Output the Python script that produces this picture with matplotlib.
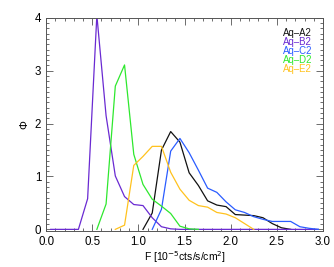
import numpy as np
import matplotlib
matplotlib.use("Agg")
import matplotlib.pyplot as plt
from matplotlib.ticker import MultipleLocator

plt.rcParams['font.family'] = ['Liberation Sans', 'DejaVu Sans']

nan = np.nan
x = [0.05, 0.15, 0.25, 0.35, 0.45, 0.55, 0.65, 0.75, 0.85, 0.95,
     1.05, 1.15, 1.25, 1.35, 1.45, 1.55, 1.65, 1.75, 1.85, 1.95,
     2.05, 2.15, 2.25, 2.35, 2.45, 2.55, 2.65, 2.75, 2.85, 2.95]

a2 = [nan, nan, nan, nan, nan, nan, nan, nan, nan, nan,
      0.0, 0.31, 1.50, 1.85, 1.65, 1.07, 0.83, 0.54, 0.46, 0.43,
      0.28, 0.27, 0.26, 0.22, 0.11, 0.03, 0.0, nan, nan, nan]
b2 = [0.0, 0.0, 0.0, 0.0, 0.58, 4.05, 2.15, 1.01, 0.62, 0.47,
      0.45, 0.22, 0.05, 0.01, 0.0, 0.0, 0.0, 0.0, 0.0, 0.0,
      0.0, 0.0, 0.0, 0.0, 0.0, 0.0, 0.0, 0.0, 0.0, 0.0]
c2 = [nan, nan, nan, nan, nan, nan, nan, nan, nan, nan,
      nan, 0.0, 0.38, 1.48, 1.72, 1.45, 1.12, 0.78, 0.70, 0.52,
      0.37, 0.32, 0.24, 0.19, 0.15, 0.15, 0.15, 0.05, 0.02, 0.0]
d2 = [nan, nan, nan, nan, nan, 0.0, 0.48, 2.71, 3.11, 1.42,
      0.85, 0.57, 0.44, 0.30, 0.06, 0.01, 0.0, nan, nan, nan,
      nan, nan, nan, nan, nan, nan, nan, nan, nan, nan]
e2 = [nan, nan, nan, nan, nan, nan, nan, 0.0, 0.08, 1.21,
      1.38, 1.57, 1.57, 1.08, 0.76, 0.55, 0.45, 0.42, 0.32, 0.29,
      0.22, 0.11, 0.0, nan, nan, nan, nan, nan, nan, nan]

names = ['Aq\u2013A2', 'Aq\u2013B2', 'Aq\u2013C2', 'Aq\u2013D2', 'Aq\u2013E2']
colors = ['#111111', '#6a2ad2', '#2a5cff', '#2ee82e', '#ffc21e']
series = [a2, b2, c2, d2, e2]

fig = plt.figure(figsize=(3.34, 2.67), dpi=100)
ax = fig.add_axes([0.138, 0.135, 0.829, 0.798])

for ys, c in zip(series, colors):
    ax.plot(x, ys, color=c, lw=0.9)

for i, (n, c) in enumerate(zip(names, colors)):
    ax.text(0.856, 0.931 - i * 0.0423, n, color=c, fontsize=6.9,
            transform=ax.transAxes, ha='left', va='center')

ax.set_xlim(0, 3.0)
ax.set_ylim(-0.03, 4.0)
ax.xaxis.set_major_locator(MultipleLocator(0.5))
ax.xaxis.set_minor_locator(MultipleLocator(0.1))
ax.yaxis.set_major_locator(MultipleLocator(1))
ax.yaxis.set_minor_locator(MultipleLocator(0.1))
ax.tick_params(which='both', direction='in', top=True, right=True,
               labelsize=8.3, color='#555555', width=0.6)
ax.tick_params(which='major', length=5)
ax.tick_params(which='minor', length=2.5)
ax.xaxis.set_major_formatter(plt.FormatStrFormatter('%.1f'))
for s in ax.spines.values():
    s.set_color('#555555')
    s.set_linewidth(0.7)

ax.set_xlabel(r'F [10$^{-5}$cts/s/cm$^2$]', fontsize=7.5, labelpad=1)
ax.set_ylabel('\u03a6', fontsize=8, rotation=90)
ax.yaxis.set_label_coords(-0.06, 0.5)

fig.savefig('out.png', dpi=100)
